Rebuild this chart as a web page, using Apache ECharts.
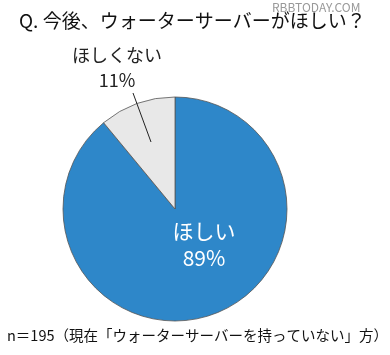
<!DOCTYPE html>
<html><head><meta charset="utf-8">
<script src="https://cdn.jsdelivr.net/npm/echarts@6/dist/echarts.min.js"></script>
<style>html,body{margin:0;padding:0;background:#fff}#c{width:390px;height:355px}</style>
</head><body><div id="c"></div>
<script>
const categories = ['ほしい', 'ほしくない'];
const values = [89, 11];
const colors = ['#2e87c9', '#e8e8e8'];
const labelColors = ['#fff', '#222'];
const FONT = '"Noto Sans CJK JP", sans-serif';
const chart = echarts.init(document.getElementById('c'));
chart.setOption({
  backgroundColor: '#fff',
  animation: false,
  title: {
    text: 'Q. 今後、ウォーターサーバーがほしい？',
    left: 14, top: 6,
    textStyle: { fontFamily: FONT, fontSize: 19, fontWeight: 'normal', color: '#111' }
  },
  graphic: [
    { type: 'text', left: 272, top: 1, style: { text: 'RBBTODAY.COM', fontFamily: FONT, fontSize: 12, fill: '#999' } },
    { type: 'text', left: 7, top: 328, style: { text: 'n＝195（現在「ウォーターサーバーを持っていない」方）', fontFamily: FONT, fontSize: 14.5, fill: '#111' } },
    { type: 'line', z: 10, shape: { x1: 133, y1: 93, x2: 151, y2: 142 }, style: { stroke: '#222', lineWidth: 1 } }
  ],
  series: [{
    type: 'pie',
    center: [175, 209],
    radius: [0, 112],
    startAngle: 90,
    clockwise: true,
    data: categories.map((c, i) => ({
      name: c, value: values[i], itemStyle: { color: colors[i] },
      label: i === 0 ? { color: labelColors[i], fontSize: 21, lineHeight: 27 } : { color: labelColors[i], fontSize: 18, lineHeight: 25 }
    })),
    itemStyle: { borderColor: '#555', borderWidth: 0.8 },
    label: {
      show: true, position: 'inside',
      formatter: p => p.name + '\n' + p.value + '%',
      fontFamily: FONT
    },
    labelLine: { show: false },
    labelLayout: function (p) {
      if (p.dataIndex === 0) return { x: 204, y: 245, align: 'center', verticalAlign: 'middle' };
      return { x: 117, y: 68, align: 'center', verticalAlign: 'middle' };
    }
  }]
});
</script></body></html>
